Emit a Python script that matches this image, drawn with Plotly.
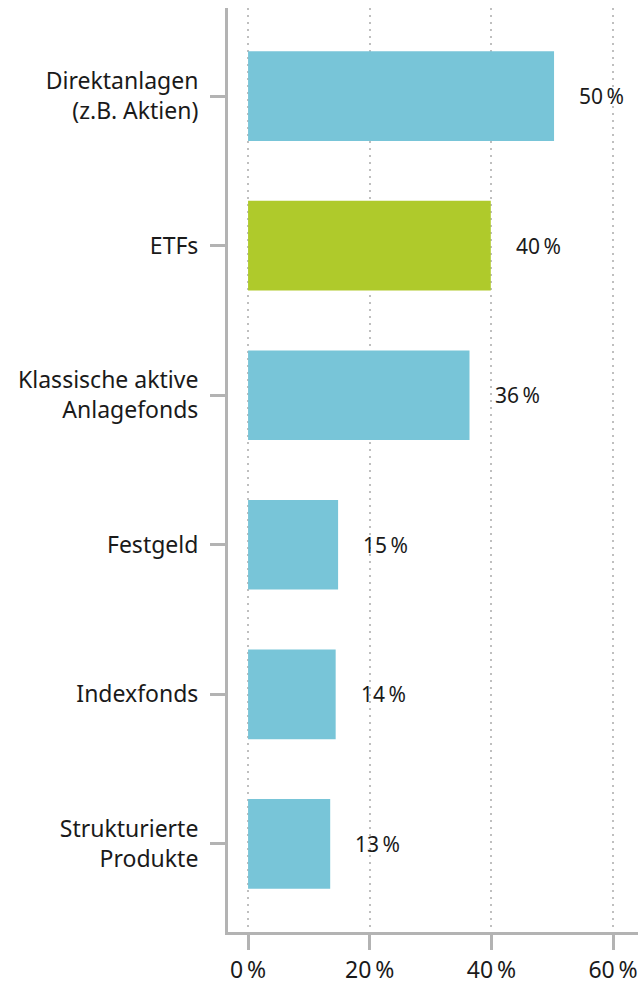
import plotly.graph_objects as go

categories = ["Direktanlagen<br>(z.B. Aktien)", "ETFs", "Klassische aktive<br>Anlagefonds",
              "Festgeld", "Indexfonds", "Strukturierte<br>Produkte"]
values = [50.3, 39.9, 36.4, 14.8, 14.4, 13.5]
value_labels = ["50\u2009%", "40\u2009%", "36\u2009%", "15\u2009%", "14\u2009%", "13\u2009%"]
bar_colors = ["#78C5D8", "#AFCA2B", "#78C5D8", "#78C5D8", "#78C5D8", "#78C5D8"]
tick_vals = [0, 20, 40, 60]
tick_text = ["0\u2009%", "20\u2009%", "40\u2009%", "60\u2009%"]

FONT = "Noto Sans"
TXT = "#1a1a1a"
AX = "#b3b3b3"

fig = go.Figure()
fig.add_trace(go.Bar(
    x=values, y=categories, orientation="h",
    marker=dict(color=bar_colors, line=dict(width=0)),
    width=0.6, hoverinfo="skip",
))
for v, c, t in zip(values, categories, value_labels):
    fig.add_annotation(x=v, y=c, text=t, showarrow=False, xanchor="left",
                       xshift=23, font=dict(family=FONT, size=21, color=TXT))

fig.update_layout(
    width=638, height=985,
    margin=dict(l=228, r=0, t=8, b=50),
    paper_bgcolor="white", plot_bgcolor="white",
    showlegend=False, bargap=0.4,
    font=dict(family=FONT, size=23, color=TXT),
)
fig.update_xaxes(
    range=[-3.3, 64.1], tickvals=tick_vals, ticktext=tick_text,
    showgrid=True, gridcolor="#bfbfbf", griddash="2px,5px", gridwidth=1.5,
    zeroline=False, showline=True, linecolor=AX, linewidth=3,
    ticks="outside", ticklen=15, tickwidth=3, tickcolor=AX,
    tickfont=dict(family=FONT, size=23, color=TXT),
)
fig.update_yaxes(
    autorange=False, range=[5.59, -0.59], categoryorder="array", categoryarray=categories,
    showgrid=False, zeroline=False, showline=True, linecolor=AX, linewidth=3,
    ticks="outside", ticklen=15, tickwidth=3, tickcolor=AX,
    ticklabelstandoff=7,
    tickfont=dict(family=FONT, size=23, color=TXT),
)
fig.write_html("out.html", config={"displayModeBar": False},
               post_script="document.body.style.margin='0';")
